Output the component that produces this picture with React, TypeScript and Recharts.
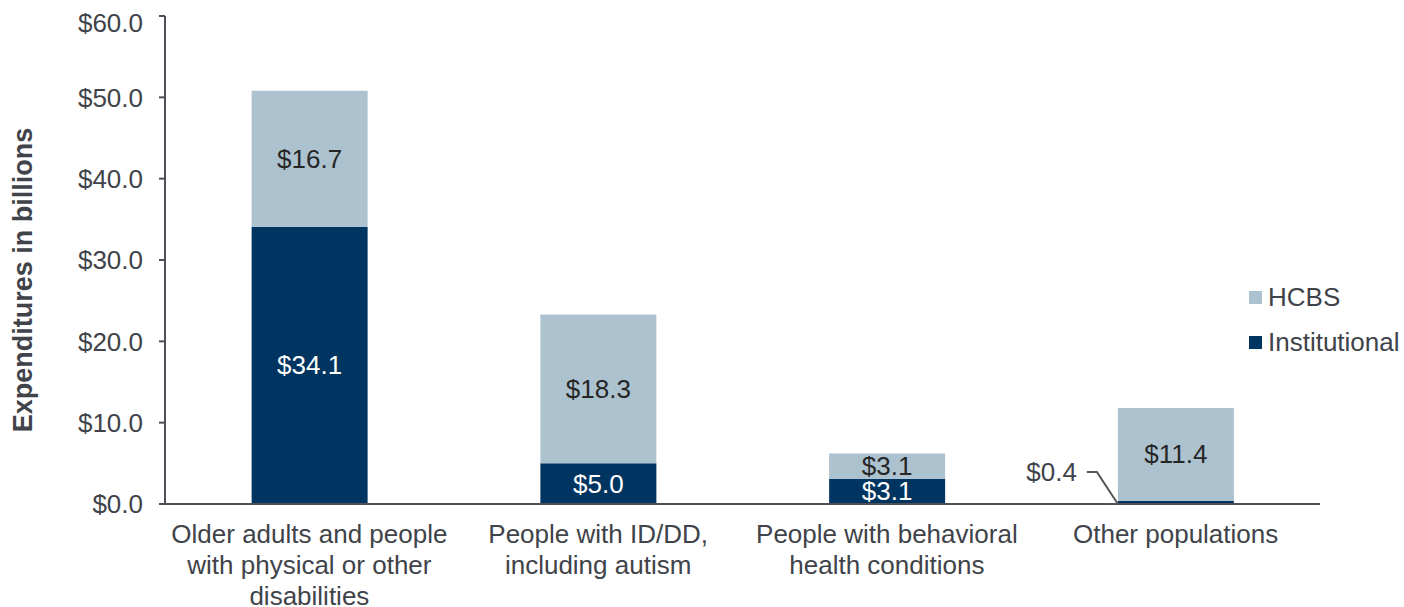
import React from 'react';
import { BarChart, Bar, XAxis, YAxis, Legend, LabelList, Label } from 'recharts';

const categories = [
  'Older adults and people with physical or other disabilities',
  'People with ID/DD, including autism',
  'People with behavioral health conditions',
  'Other populations',
];
const categoryLines = [
  ['Older adults and people', 'with physical or other', 'disabilities'],
  ['People with ID/DD,', 'including autism'],
  ['People with behavioral', 'health conditions'],
  ['Other populations'],
];
const institutional = [34.1, 5.0, 3.1, 0.4];
const hcbs = [16.7, 18.3, 3.1, 11.4];
const yTicks = [0, 10, 20, 30, 40, 50, 60];

const data = categories.map((c, i) => ({
  name: c,
  Institutional: institutional[i],
  HCBS: hcbs[i],
}));

const FONT = '"Liberation Sans", Arial, sans-serif';
const TEXT = '#404349';
const AXIS = '#4d5058';
const C_HCBS = '#adc2cf';
const C_INST = '#003461';

const fmt = (v: number) => `$${v.toFixed(1)}`;

const XTick = (props: any) => {
  const { x, y, index } = props;
  const lines: string[] = categoryLines[index] || [];
  return (
    <text x={x} y={y} textAnchor="middle" fontFamily={FONT} fontSize={26} fill={TEXT}>
      {lines.map((l, i) => (
        <tspan key={i} x={x} dy={31}>
          {l}
        </tspan>
      ))}
    </text>
  );
};

const HcbsLabel = (props: any) => {
  const { x, y, width, height, value } = props;
  return (
    <text
      x={x + width / 2}
      y={y + height / 2}
      textAnchor="middle"
      dominantBaseline="central"
      fontFamily={FONT}
      fontSize={26}
      fill="#262626"
    >
      {fmt(value)}
    </text>
  );
};

const InstLabel = (props: any) => {
  const { x, y, width, height, value } = props;
  if (value < 1) {
    const bottom = y + height;
    const ly = bottom - 32;
    return (
      <g>
        <polyline
          points={`${x - 31},${ly} ${x - 21},${ly} ${x},${bottom}`}
          fill="none"
          stroke="#555"
          strokeWidth={2}
        />
        <text
          x={x - 41}
          y={ly}
          textAnchor="end"
          dominantBaseline="central"
          fontFamily={FONT}
          fontSize={26}
          fill={TEXT}
        >
          {fmt(value)}
        </text>
      </g>
    );
  }
  return (
    <text
      x={x + width / 2}
      y={y + height / 2}
      textAnchor="middle"
      dominantBaseline="central"
      fontFamily={FONT}
      fontSize={26}
      fill="#ffffff"
    >
      {fmt(value)}
    </text>
  );
};

const YLabel = (props: any) => {
  const vb = props.viewBox || {};
  const cx = (vb.x || 0) + 15;
  const cy = (vb.y || 0) + (vb.height || 0) / 2 + 20;
  return (
    <text
      x={cx}
      y={cy}
      transform={`rotate(-90, ${cx}, ${cy})`}
      textAnchor="middle"
      dominantBaseline="central"
      fontFamily={FONT}
      fontSize={27}
      fontWeight="bold"
      fill={TEXT}
    >
      Expenditures in billions
    </text>
  );
};

const LegendContent = (props: any) => {
  const payload = [...(props.payload || [])];
  return (
    <div style={{ fontFamily: FONT, fontSize: 26, color: TEXT, whiteSpace: 'nowrap' }}>
      {payload.map((p: any, i: number) => (
        <div key={i} style={{ display: 'flex', alignItems: 'center', height: 45 }}>
          <span
            style={{
              display: 'inline-block',
              width: 13,
              height: 13,
              background: p.color,
              marginRight: 6,
              flexShrink: 0,
            }}
          />
          <span>{p.value}</span>
        </div>
      ))}
    </div>
  );
};

export default function App() {
  return (
    <div style={{ position: 'absolute', left: 8, top: 8, width: 1396, height: 599, background: '#fff' }}>
      <BarChart
        width={1396}
        height={599}
        data={data}
        margin={{ top: 8, right: 84, bottom: 3, left: 0 }}
        barCategoryGap="30%"
      >
        <YAxis
          width={157}
          domain={[0, 60]}
          ticks={yTicks}
          tickFormatter={fmt}
          axisLine={{ stroke: AXIS, strokeWidth: 2 }}
          tickLine={{ stroke: AXIS, strokeWidth: 2 }}
          tickSize={6}
          tickMargin={16}
          tick={{ fontFamily: FONT, fontSize: 26, fill: TEXT }}
        >
          <Label content={<YLabel />} />
        </YAxis>
        <XAxis
          dataKey="name"
          height={100}
          axisLine={{ stroke: AXIS, strokeWidth: 2 }}
          tickLine={false}
          interval={0}
          tick={<XTick />}
        />
        <Legend
          layout="vertical"
          align="center"
          verticalAlign="middle"
          content={<LegendContent />}
          wrapperStyle={{ left: 1241, top: 267, width: 160 }}
        />
        <Bar dataKey="Institutional" stackId="a" fill={C_INST} isAnimationActive={false}>
          <LabelList dataKey="Institutional" content={<InstLabel />} />
        </Bar>
        <Bar dataKey="HCBS" stackId="a" fill={C_HCBS} isAnimationActive={false}>
          <LabelList dataKey="HCBS" content={<HcbsLabel />} />
        </Bar>
      </BarChart>
    </div>
  );
}
